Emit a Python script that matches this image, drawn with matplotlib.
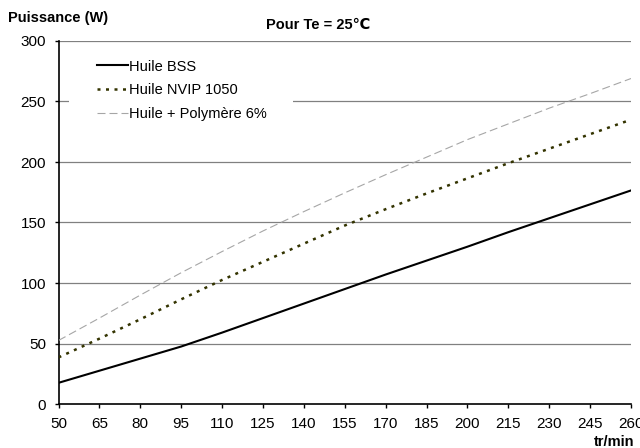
import matplotlib
matplotlib.use("Agg")
import matplotlib.pyplot as plt
from matplotlib.patches import Rectangle

plt.rcParams['font.family'] = ['Liberation Sans', 'DejaVu Sans']

speed = [50, 65, 80, 95, 110, 125, 140, 155, 170, 185, 200, 215, 230, 245, 260]
huile_bss = [17.5, 27.5, 37.5, 47.5, 59, 71, 83, 95, 107, 118.5, 130, 142, 153.5, 165, 176.5]
huile_nvip = [38.5, 54, 70, 86.5, 102.5, 117.5, 132.5, 147.5, 161, 174, 186.5, 199, 211, 223, 235]
huile_poly = [52.5, 71, 90, 108.5, 126, 143, 159, 174.5, 189.5, 204, 218.5, 231.5, 244.5, 256.5, 269]
y_ticks = [0, 50, 100, 150, 200, 250, 300]

fig = plt.figure(figsize=(6.4, 4.48), dpi=100)
ax = fig.add_axes([58.5/640, 1-404/448, (631-58.5)/640, (404-41)/448])

for v in y_ticks[1:]:
    ax.axhline(v, color='#808080', lw=0.9, zorder=1)

ax.plot(speed, huile_bss, color='black', lw=1.5, label='Huile BSS', zorder=3)
ax.plot(speed, huile_nvip, color='#333300', lw=1.8, linestyle=(0, (1.2, 2.2)),
        label='Huile NVIP 1050', zorder=3)
ax.plot(speed, huile_poly, color='#a6a6a6', lw=0.8, linestyle=(0, (7.2, 3.6)),
        label='Huile + Polymère 6%', zorder=3)

ax.set_xlim(50, 260)
ax.set_ylim(0, 300)
ax.set_xticks(speed)
ax.set_yticks(y_ticks)
ax.tick_params(axis='both', labelsize=11, length=3, width=1, color='black')
ax.tick_params(axis='y', pad=6)
ax.tick_params(axis='x', direction='out', length=3, pad=6)
for s in ['top', 'right']:
    ax.spines[s].set_visible(False)
for s in ['left', 'bottom']:
    ax.spines[s].set_color('black')
    ax.spines[s].set_linewidth(1.2)

ax.add_patch(Rectangle((0.0175, 0.782), 0.3925, 0.19, transform=ax.transAxes,
                       facecolor='white', edgecolor='none', zorder=2))
leg = ax.legend(loc='upper left', bbox_to_anchor=(0.0419, 0.989), frameon=False,
                fontsize=10.5, handlelength=2.1, handletextpad=0.1, labelspacing=0.66,
                borderpad=0.5)
leg.set_zorder(5)

fig.text(8/640, 1-18/448, 'Puissance (W)', fontsize=10.5, fontweight='bold', va='center', ha='left')
fig.text(318/640, 1-25/448, 'Pour Te = 25℃', fontsize=10.5, fontweight='bold', va='center', ha='center')
fig.text(634/640, 1-442/448, 'tr/min', fontsize=10.5, fontweight='bold', va='center', ha='right')

fig.savefig('out.png', dpi=100)
